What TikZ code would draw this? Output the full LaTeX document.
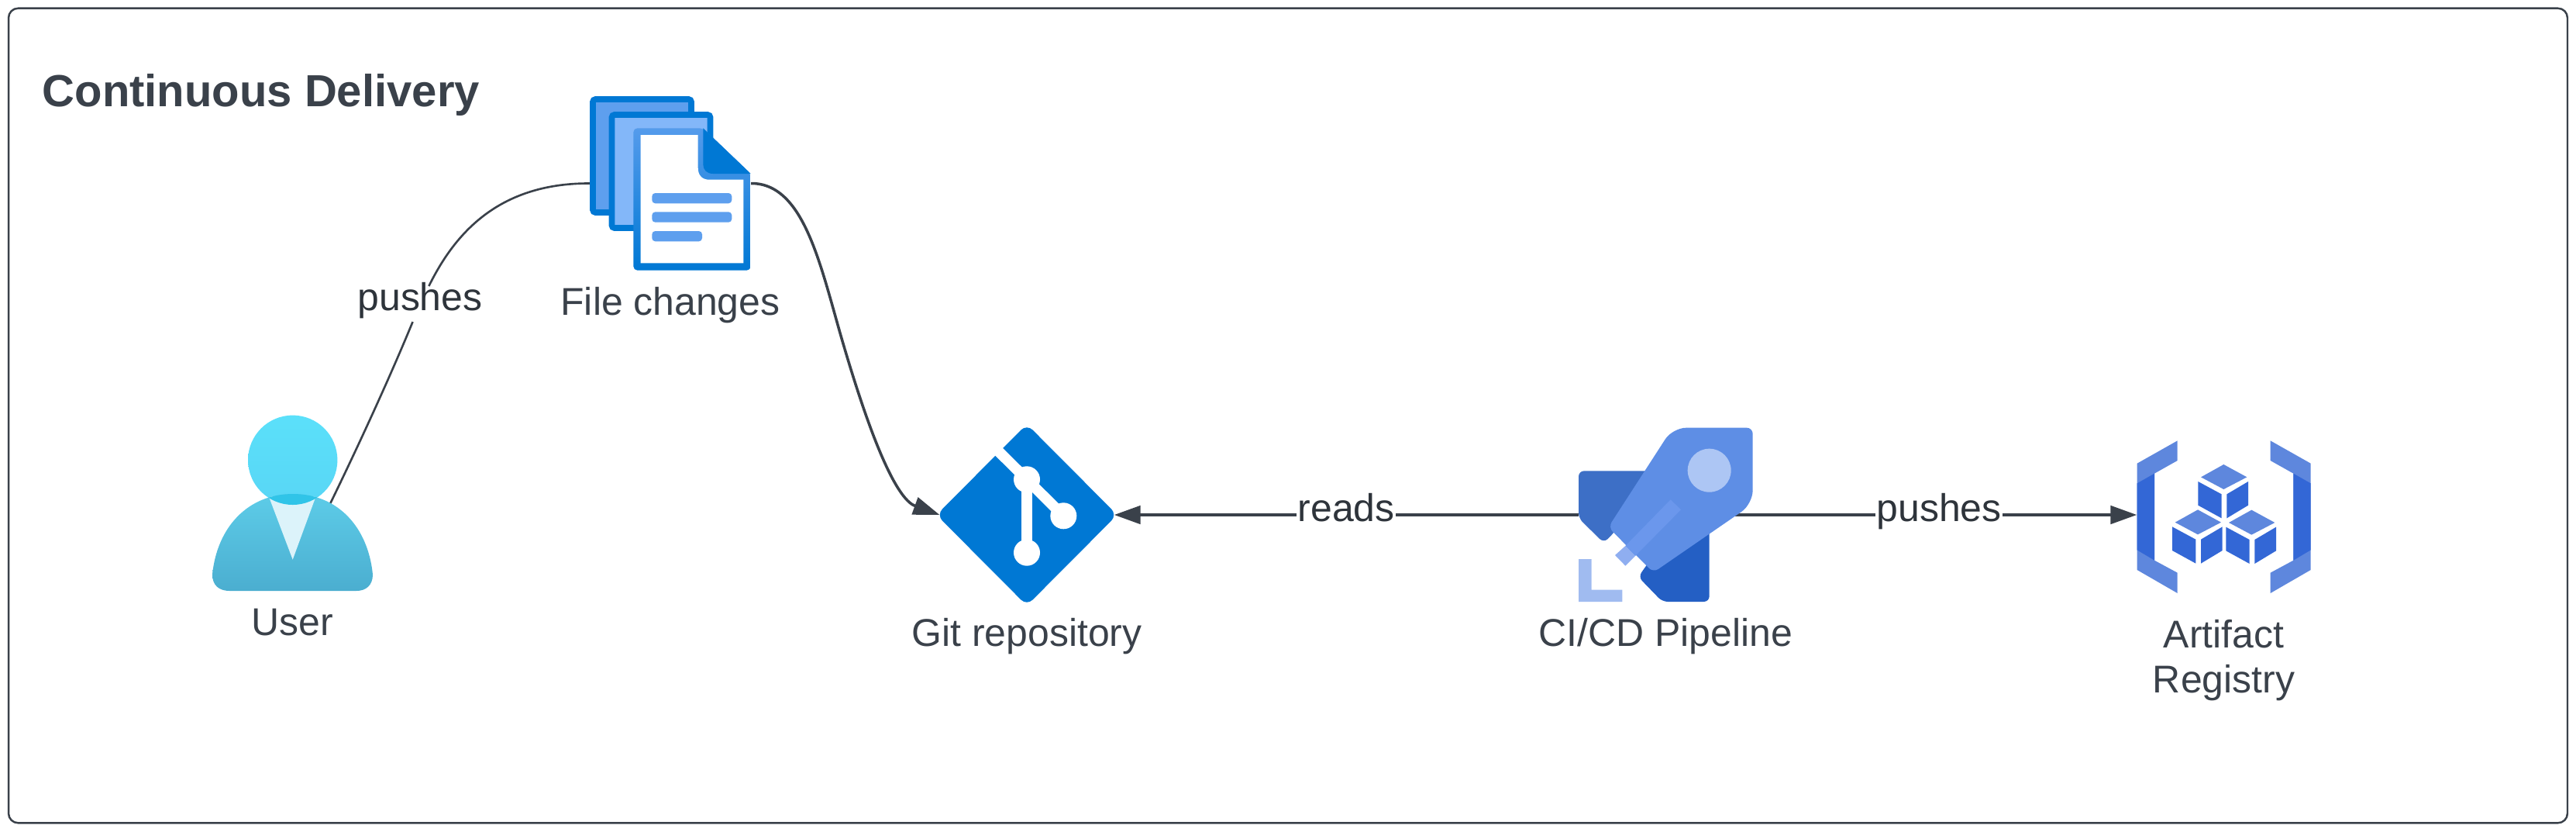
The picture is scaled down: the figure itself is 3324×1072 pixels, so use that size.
\documentclass[tikz,border=0pt]{standalone}
\usepackage{fontspec}
\setmainfont{Liberation Sans}
\usepackage{xcolor}
\usepackage{tikz}
\usetikzlibrary{positioning,arrows.meta,calc}

\definecolor{inkgray}{HTML}{3A414A}
\definecolor{azureblue}{HTML}{0078D4}
\definecolor{sheetblue}{HTML}{5E9FEE}
\definecolor{sheetpale}{HTML}{83B7F9}
\definecolor{rocketblue}{HTML}{5E8EE5}
\definecolor{cloudlight}{HTML}{5E87DD}
\definecolor{clouddark}{HTML}{3367D6}

\begin{document}
\begin{tikzpicture}[
      x=0.01cm, y=-0.01cm,
      icon/.style={inner sep=0pt, outer sep=0pt},
      caption/.style={font=\fontsize{14.2}{16.6}\selectfont, text=inkgray, align=center, inner sep=0pt},
      edgelabel/.style={font=\fontsize{14.2}{17}\selectfont, text=inkgray!80!black, fill=white,
                    inner xsep=0.5pt, inner ysep=1.5pt, text height=0.72em, text depth=0.25em},
      arrow/.style={-{Triangle[length=0.34cm, width=0.23cm]}, line width=1.3pt, draw=inkgray},
      thinline/.style={line width=0.75pt, draw=inkgray},
      node distance=0.1cm and 0.1cm
  ]
  \useasboundingbox (0,0) rectangle (3324,1072);

  %% ---- Frame ----
  \node[draw=inkgray, line width=0.7pt, rounded corners=3.5pt, minimum width=33cm, minimum height=10.5cm,
        inner sep=0pt] (frame) at (1662,536) {};
  \node[font=\fontsize{16.5}{20}\selectfont\bfseries, text=inkgray, inner sep=0pt, anchor=west] (title) at (54,122)
      {Continuous Delivery};

  %% ---- Icon places ----
  \node[icon, minimum width=2.07cm, minimum height=2.27cm] (user) at (377.5,648) {};
  \node[icon, minimum width=2.08cm, minimum height=2.25cm] (files) at (865,236.5) {};
  \node[icon, minimum width=2.25cm, minimum height=2.26cm] (git) at (1325,664) {};
  \node[icon, minimum width=2.25cm, minimum height=2.25cm] (pipeline) at (2149.5,664) {};
  \node[icon, minimum width=2.24cm, minimum height=1.97cm] (registry) at (2869.5,664) {};

  %% ---- Captions ----
  \node[caption, below=0.23cm of user] (user_cap) {User};
  \node[caption, below=0.21cm of files] (files_cap) {File changes};
  \node[caption, below=0.2cm of git] (git_cap) {Git repository};
  \node[caption, below=0.2cm of pipeline] (pipeline_cap) {CI/CD Pipeline};
  \node[caption, below=0.36cm of registry] (registry_cap) {Artifact\\Registry};

  %% ---- Connections ----
  \coordinate (user_out) at (420,662);
  \node[edgelabel] (push_a) at (542,392) {pushes};
  \draw[thinline] (user_out) .. controls (470,560) and (510,470) .. (push_a);
  \draw[thinline] (push_a) .. controls (585,305) and (640,236) .. (files.west);
  \coordinate (bend) at (1090,450);
  \draw[line width=1pt, draw=inkgray] (files.east) .. controls (1040,236) and (1060,350) .. (bend);
  \draw[arrow, line width=1pt] (bend) .. controls (1130,585) and (1160,645) .. (git.west);
  \draw[arrow] (pipeline.west) -- node[edgelabel, midway] (reads) {reads} (git.east);
  \draw[arrow] (pipeline.center) -- node[edgelabel, pos=0.58] (push_b) {pushes} (registry.west);

  %% ---- User icon ----
  \shade[top color={rgb,255:red,91;green,224;blue,250}, bottom color={rgb,255:red,88;green,214;blue,245}]
      (377.7,593.3) circle (57.7);
  \def\bodypath{(274,741) .. controls (280,680) and (320,637) .. (378,637) .. controls (436,637) and (475,680) .. (481,741)
      .. controls (481,755) and (472,762) .. (460,762) -- (296,762) .. controls (283,762) and (274,755) .. (274,741)}
  \shade[top color={rgb,255:red,93;green,204;blue,232}, bottom color={rgb,255:red,75;green,174;blue,208}] \bodypath;
  \begin{scope}
    \clip \bodypath;
    \fill[fill={rgb,255:red,220;green,243;blue,250}] (346.7,640) -- (407.7,640) -- (377.7,721.7) -- cycle;
    \fill[fill={rgb,255:red,48;green,196;blue,232}] (377.7,593.3) circle (57.7);
  \end{scope}

  %% ---- File icon ----
  \draw[azureblue, fill=sheetblue, line width=2.2pt, rounded corners=1pt] (765,128) rectangle (892,274);
  \draw[azureblue, fill=sheetpale, line width=2.2pt, rounded corners=1pt] (789.5,148) rectangle (916.5,294);
  \shade[top color=sheetblue!90!azureblue, bottom color=azureblue, rounded corners=1.5pt]
      (817.3,165.3) -- (907,165.3) -- (968.7,224) -- (968.7,348.7) -- (817.3,348.7) -- cycle;
  \fill[white] (826.7,174) -- (900.7,174) -- (900.7,216.7) .. controls (900.7,226) and (906,231.7) .. (915,231.7)
      -- (959.3,231.7) -- (959.3,339.3) -- (826.7,339.3) -- cycle;
  \fill[azureblue] (907.3,165.3) -- (968.7,224) -- (920,224) .. controls (912,224) and (907.3,219) .. (907.3,212) -- cycle;
  \fill[sheetblue, rounded corners=1.2pt] (841.3,249) rectangle (944.3,262.3);
  \fill[sheetblue, rounded corners=1.2pt] (841.3,273.3) rectangle (944.3,286.7);
  \fill[sheetblue, rounded corners=1.2pt] (841.3,298) rectangle (906,311.3);

  %% ---- Git icon ----
  \fill[azureblue, rounded corners=3pt] ($(git.west)+(-4,0)$) -- ($(git.north)+(0,-4)$)
      -- ($(git.east)+(4,0)$) -- ($(git.south)+(0,4)$) -- cycle;
  \draw[white, line width=3.9pt] (1278,571.7) -- (1372.3,665.3);
  \draw[white, line width=3.9pt] (1325,618.3) -- (1325,712.7);
  \fill[white] (1325,618.3) circle (17);
  \fill[white] (1372.3,665.3) circle (17);
  \fill[white] (1325,712.7) circle (17);

  %% ---- Pipeline icon ----
  \begin{scope}[shift={(2000,530)}, scale=1/3]
    \fill[fill={rgb,255:red,61;green,111;blue,198}, rounded corners=2pt]
        (111,232) -- (420,232) -- (240,480) -- (208,510) -- (111,415) -- cycle;
    \fill[fill={rgb,255:red,36;green,95;blue,196}, rounded corners=2pt]
        (617,400) -- (617,738) -- (435,738) -- (342,642) -- (400,560) -- cycle;
    \fill[rocketblue, rounded corners=5pt] (475,65) [rounded corners=2.2pt] -- (785,65)
        [rounded corners=5pt] -- (785,360) [rounded corners=2.2pt] -- (400,625) -- (226,450)
        [rounded corners=5pt] -- cycle;
    \fill[fill={rgb,255:red,173;green,198;blue,244}] (617,230) circle (84);
    \fill[fill={rgb,255:red,143;green,174;blue,240}] (292,522) -- (330,561) -- (292,599) -- (252,558) -- cycle;
    \fill[fill={rgb,255:red,107;green,151;blue,236}] (467,343) -- (507,382) -- (330,561) -- (292,522) -- cycle;
    \fill[fill={rgb,255:red,160;green,187;blue,240}]
        (111,573) -- (161,573) -- (161,692) -- (280,692) -- (280,738) -- (111,738) -- cycle;
  \end{scope}

  %% ---- Registry icon ----
  \begin{scope}[shift={(2730,550)}, scale=1/3]
    \fill[cloudlight] (83,143) -- (239,55) -- (239,132) -- (150,182) -- (150,518) -- (239,566) -- (239,645) -- (83,555) -- cycle;
    \fill[clouddark] (83,220) -- (150,182) -- (150,518) -- (83,478) -- cycle;
    \fill[cloudlight] (755,143) -- (599,55) -- (599,132) -- (688,182) -- (688,518) -- (599,566) -- (599,645) -- (755,555) -- cycle;
    \fill[clouddark] (755,220) -- (688,182) -- (688,518) -- (755,478) -- cycle;
    \foreach \dx/\dy in {0/0, -100/175, 108/176} {
      \begin{scope}[shift={(\dx,\dy)}]
        \fill[cloudlight] (418,147) -- (508,196) -- (418,243) -- (330,196) -- cycle;
        \fill[clouddark] (319,213) -- (410,262) -- (410,355) -- (319,305) -- cycle;
        \fill[clouddark] (430,262) -- (513,213) -- (513,305) -- (430,355) -- cycle;
      \end{scope}
    }
  \end{scope}

\end{tikzpicture}
\end{document}
